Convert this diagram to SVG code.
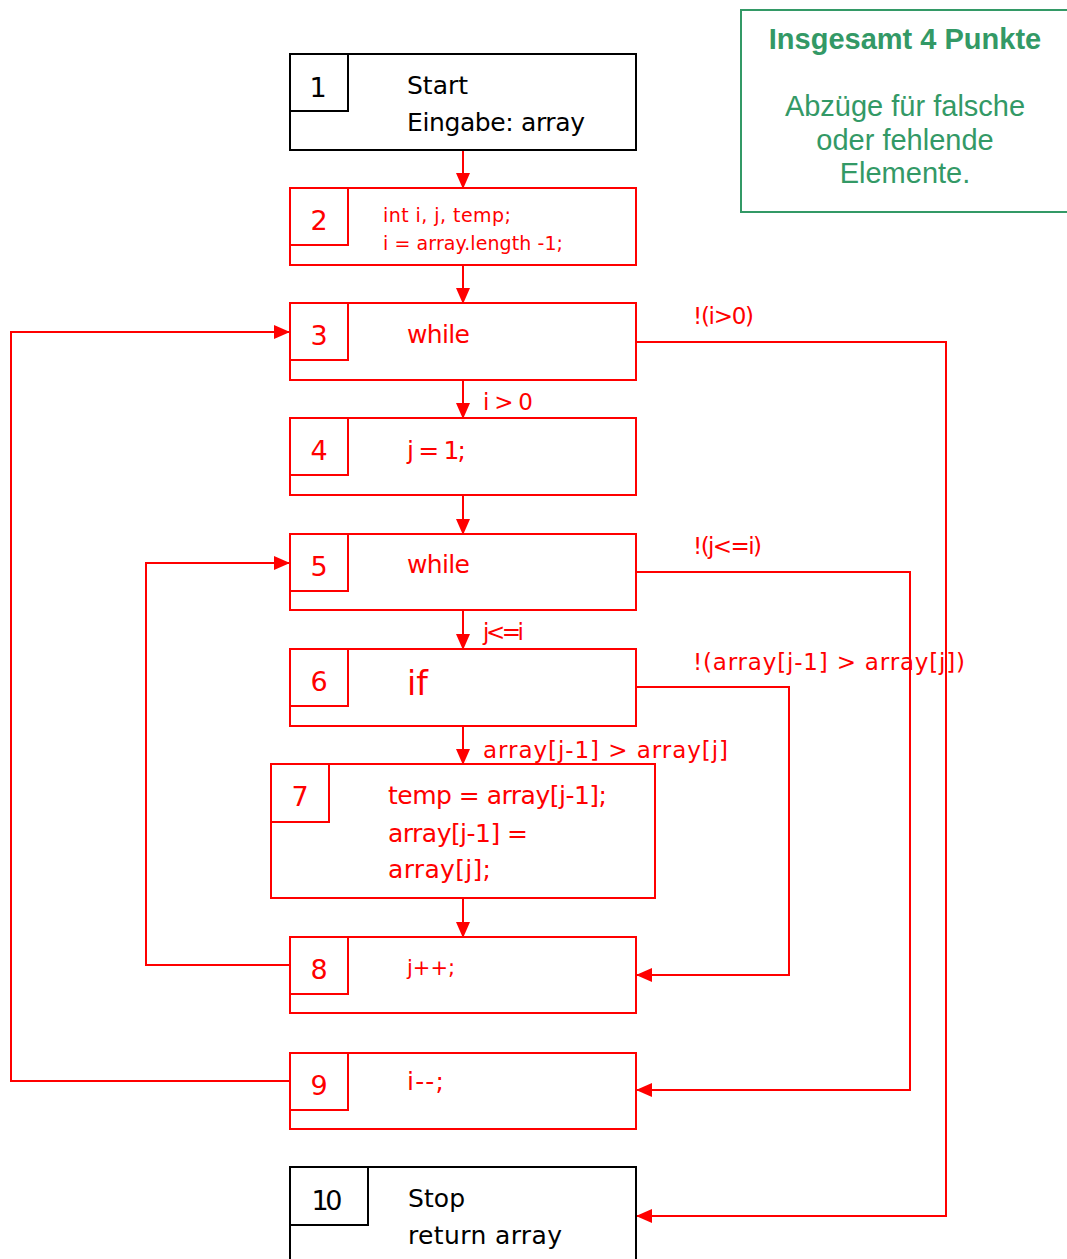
<svg xmlns="http://www.w3.org/2000/svg" width="1067" height="1259" viewBox="0 0 1067 1259">
<style>
.bx{fill:#fff;stroke-width:2}
.r{stroke:#ff0000}
.k{stroke:#000}
.in{fill:none;stroke-width:2}
.t{font-family:"DejaVu Sans","Liberation Sans",sans-serif}
.tr{fill:#ff0000}
.tk{fill:#000}
.num{font-size:27px;text-anchor:middle}
.main{font-size:25px}
.small{font-size:19px}
.lbl{font-size:23px;fill:#ff0000}
.con{fill:none;stroke:#ff0000;stroke-width:2}
.g{font-family:"Liberation Sans",Arial,sans-serif;fill:#339966;text-anchor:middle}
</style>
<defs>
<marker id="ah" markerUnits="userSpaceOnUse" markerWidth="16" markerHeight="14" refX="15" refY="7" orient="auto">
<path d="M0,0 L16,7 L0,14 Z" fill="#ff0000"/>
</marker>
</defs>
<g id="connectors">
<line class="con" x1="463" y1="150" x2="463" y2="188" marker-end="url(#ah)"/>
<line class="con" x1="463" y1="265" x2="463" y2="303" marker-end="url(#ah)"/>
<line class="con" x1="463" y1="380" x2="463" y2="418" marker-end="url(#ah)"/>
<line class="con" x1="463" y1="495" x2="463" y2="534" marker-end="url(#ah)"/>
<line class="con" x1="463" y1="610" x2="463" y2="649" marker-end="url(#ah)"/>
<line class="con" x1="463" y1="726" x2="463" y2="764" marker-end="url(#ah)"/>
<line class="con" x1="463" y1="898" x2="463" y2="937" marker-end="url(#ah)"/>
<polyline class="con" points="636,342 946,342 946,1216 637,1216" marker-end="url(#ah)"/>
<polyline class="con" points="636,572 910,572 910,1090 637,1090" marker-end="url(#ah)"/>
<polyline class="con" points="636,687 789,687 789,975 637,975" marker-end="url(#ah)"/>
<polyline class="con" points="290,965 146,965 146,563 289,563" marker-end="url(#ah)"/>
<polyline class="con" points="290,1081 11,1081 11,332 289,332" marker-end="url(#ah)"/>
<text class="t lbl" x="693" y="324" textLength="61">!(i&gt;0)</text>
<text class="t lbl" x="483" y="410" textLength="50">i &gt; 0</text>
<text class="t lbl" x="693" y="554" textLength="69">!(j&lt;=i)</text>
<text class="t lbl" x="483" y="640" textLength="41">j&lt;=i</text>
<text class="t lbl" x="693" y="670" textLength="272">!(array[j-1] &gt; array[j])</text>
<text class="t lbl" x="483" y="758" textLength="245">array[j-1] &gt; array[j]</text>
</g>
<g id="n1">
<rect class="bx k" x="290" y="54" width="346" height="96"/>
<polyline class="in k" points="290,111 348,111 348,54"/>
<text class="t tk num" x="318" y="97">1</text>
<text class="t tk main" x="407" y="94">Start</text>
<text class="t tk main" x="407" y="131" textLength="178">Eingabe: array</text>
</g>
<g id="n2">
<rect class="bx r" x="290" y="188" width="346" height="77"/>
<polyline class="in r" points="290,245 348,245 348,188"/>
<text class="t tr num" x="319" y="230">2</text>
<text class="t tr small" x="383" y="222" textLength="128">int i, j, temp;</text>
<text class="t tr small" x="383" y="250" textLength="180">i = array.length -1;</text>
</g>
<g id="n3">
<rect class="bx r" x="290" y="303" width="346" height="77"/>
<polyline class="in r" points="290,360 348,360 348,303"/>
<text class="t tr num" x="319" y="345">3</text>
<text class="t tr main" x="407" y="343" textLength="63">while</text>
</g>
<g id="n4">
<rect class="bx r" x="290" y="418" width="346" height="77"/>
<polyline class="in r" points="290,475 348,475 348,418"/>
<text class="t tr num" x="319" y="460">4</text>
<text class="t tr main" x="407" y="459" textLength="59">j = 1;</text>
</g>
<g id="n5">
<rect class="bx r" x="290" y="534" width="346" height="76"/>
<polyline class="in r" points="290,591 348,591 348,534"/>
<text class="t tr num" x="319" y="576">5</text>
<text class="t tr main" x="407" y="573" textLength="63">while</text>
</g>
<g id="n6">
<rect class="bx r" x="290" y="649" width="346" height="77"/>
<polyline class="in r" points="290,706 348,706 348,649"/>
<text class="t tr num" x="319" y="691">6</text>
<text class="t tr" x="407" y="695" font-size="33">if</text>
</g>
<g id="n7">
<rect class="bx r" x="271" y="764" width="384" height="134"/>
<polyline class="in r" points="271,822 329,822 329,764"/>
<text class="t tr num" x="300" y="806">7</text>
<text class="t tr main" x="388" y="804" textLength="219">temp = array[j-1];</text>
<text class="t tr main" x="388" y="842" textLength="140">array[j-1] =</text>
<text class="t tr main" x="388" y="878" textLength="103">array[j];</text>
</g>
<g id="n8">
<rect class="bx r" x="290" y="937" width="346" height="76"/>
<polyline class="in r" points="290,994 348,994 348,937"/>
<text class="t tr num" x="319" y="979">8</text>
<text class="t tr" x="407" y="975" font-size="21">j++;</text>
</g>
<g id="n9">
<rect class="bx r" x="290" y="1053" width="346" height="76"/>
<polyline class="in r" points="290,1110 348,1110 348,1053"/>
<text class="t tr num" x="319" y="1095">9</text>
<text class="t tr main" x="407" y="1090" textLength="37">i--;</text>
</g>
<g id="n10">
<rect class="bx k" x="290" y="1167" width="346" height="100"/>
<polyline class="in k" points="290,1225 368,1225 368,1167"/>
<text class="t tk num" x="327" y="1210" textLength="31">10</text>
<text class="t tk main" x="408" y="1207" textLength="57">Stop</text>
<text class="t tk main" x="408" y="1244" textLength="154">return array</text>
</g>
<g id="note">
<rect x="741" y="10" width="330" height="202" fill="#fff" stroke="#339966" stroke-width="2"/>
<text class="g" x="905" y="49" font-size="29" font-weight="bold">Insgesamt 4 Punkte</text>
<text class="g" x="905" y="116" font-size="29">Abzüge für falsche</text>
<text class="g" x="905" y="150" font-size="29">oder fehlende</text>
<text class="g" x="905" y="183" font-size="29">Elemente.</text>
</g>
</svg>
